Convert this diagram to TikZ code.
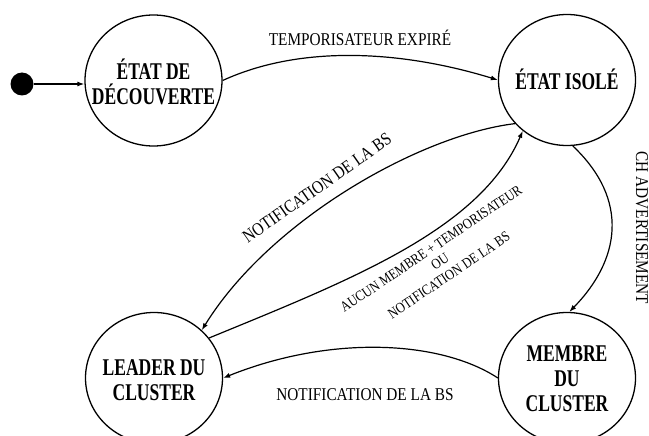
\documentclass[tikz,border=0pt]{standalone}
\usepackage{fontspec}
\setmainfont{Liberation Serif}[FakeStretch=0.85]
\newfontfamily\statefont{Liberation Serif}[FakeStretch=0.73]
\usetikzlibrary{shapes.geometric,arrows.meta}
\begin{document}
\begin{tikzpicture}[x=1pt,y=-1pt,
 state/.style={draw, line width=1.3pt, ellipse, minimum width=137pt, minimum height=131pt, inner sep=0pt},
 stext/.style={align=center, inner sep=0pt, font=\statefont\fontsize{24}{25}\selectfont\bfseries},
 lbl/.style={font=\fontsize{18}{20}\selectfont, inner sep=0pt},
 small/.style={font=\fontsize{14.6}{16}\selectfont, inner sep=0pt, align=center},
 tr/.style={line width=1.2pt, -{Latex[length=7pt,width=5pt]}}]
\useasboundingbox (0,0) rectangle (649,436);
\node[state] (dec) at (153.5,80.5) {};
\node[state] (iso) at (567,80) {};
\node[state] (lead) at (154,378) {};
\node[state] (mem) at (567,378) {};
\node[stext] (dect) at (153.5,82) {ÉTAT DE\\DÉCOUVERTE};
\node[stext] (isot) at (567,79) {ÉTAT ISOLÉ};
\node[stext] (leadt) at (154,380) {LEADER DU\\CLUSTER};
\node[stext] (memt) at (567,379) {MEMBRE\\DU\\CLUSTER};
\node[circle, fill=black, minimum size=23pt, inner sep=0pt] (init) at (22,84) {};

\draw[tr] (init) -- (init -| dec.west);
\draw[tr] (dec.east) .. controls (300,45) and (400,50) .. (iso.west);
\draw[tr] (iso.220) .. controls (420,135) and (270,220) .. (lead.45);
\draw[tr] (lead.36) .. controls (350,280) and (480,230) .. (iso.229);
\draw[tr] (iso.-85) .. controls (630,200) and (620,260) .. (mem.88);
\draw[tr] (mem.west) .. controls (440,340) and (330,335) .. (lead.east);

\node[lbl] (l1) at (360,38) {TEMPORISATEUR EXPIRÉ};
\node[lbl, rotate=35] (l2) at (317,188) {NOTIFICATION DE LA BS};
\node[small, rotate=34] (l3) at (440,262) {AUCUN MEMBRE + TEMPORISATEUR\\OU\\NOTIFICATION DE LA BS};
\node[lbl, rotate=-90] (l4) at (642,228) {CH ADVERTISEMENT};
\node[lbl] (l5) at (365,395) {NOTIFICATION DE LA BS};
\end{tikzpicture}
\end{document}
